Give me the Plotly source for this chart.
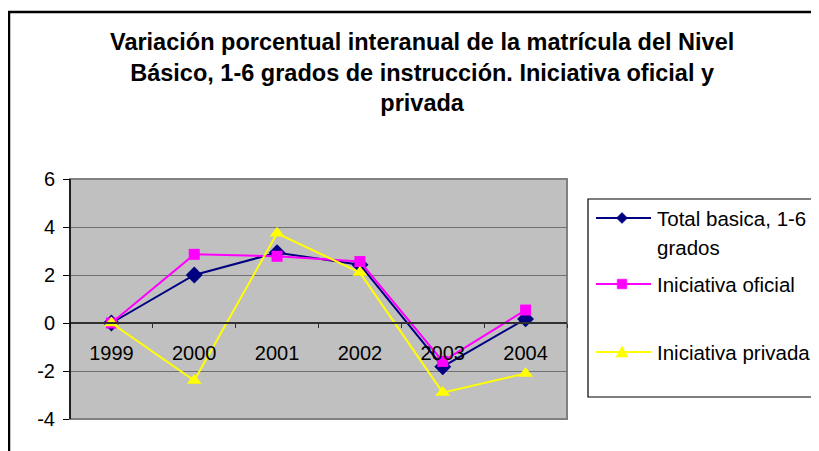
import plotly.graph_objects as go

years = ["1999", "2000", "2001", "2002", "2003", "2004"]
total_basica = [0.0, 2.0, 2.93, 2.43, -1.82, 0.17]
iniciativa_oficial = [0.0, 2.86, 2.78, 2.56, -1.6, 0.54]
iniciativa_privada = [0.0, -2.4, 3.74, 2.1, -2.9, -2.1]

series_names = ["Total basica, 1-6 grados", "Iniciativa oficial", "Iniciativa privada"]
legend_lines = [["Total basica, 1-6", "grados"], ["Iniciativa oficial"], ["Iniciativa privada"]]
colors = ["#000080", "#FF00FF", "#FFFF00"]
symbols = ["diamond", "square", "triangle-up"]
marker_sizes = [13, 11, 13]
title_lines = ["Variación porcentual interanual de la matrícula del Nivel",
               "Básico, 1-6 grados de instrucción. Iniciativa oficial y",
               "privada"]
y_ticks = [-4, -2, 0, 2, 4, 6]
y_tick_text = ["-4", "-2", "0", "2", "4", "6"]

# page body has an 8px margin: work in screen pixels, convert to figure pixels
OFF = 8
W, H = 819 - OFF, 451 - OFF
L, R, T, B = 70 - OFF, 567 - OFF, 179 - OFF, 419 - OFF
pw, ph = R - L, B - T

def px(x):
    return (x - OFF - L) / pw

def py(y):
    return (B - (y - OFF)) / ph

FONT = "Liberation Sans, Arial, sans-serif"

fig = go.Figure()
for name, vals, c, s, ms in zip(series_names, [total_basica, iniciativa_oficial, iniciativa_privada],
                                colors, symbols, marker_sizes):
    fig.add_trace(go.Scatter(x=years, y=vals, name=name, mode="lines+markers",
                             line=dict(color=c, width=2),
                             marker=dict(symbol=s, size=ms, color=c, line=dict(width=0)),
                             showlegend=False, cliponaxis=False))

shapes = []
# outer chart border
shapes.append(dict(type="rect", xref="paper", yref="paper", x0=px(9), x1=px(845), y0=py(470), y1=py(12),
                   line=dict(color="black", width=2.5), layer="above"))
# plot area border (gray)
shapes.append(dict(type="rect", xref="paper", yref="paper", x0=0, x1=1, y0=0, y1=1,
                   line=dict(color="#808080", width=2), layer="below"))
# left axis line
shapes.append(dict(type="line", xref="paper", yref="paper", x0=0, x1=0, y0=0, y1=1,
                   line=dict(color="#000000", width=1.5), layer="above"))
# legend box
shapes.append(dict(type="rect", xref="paper", yref="paper", x0=px(588), x1=px(850), y0=py(397), y1=py(199),
                   line=dict(color="black", width=1.2), fillcolor="white", layer="above"))

leg_rows = [218, 284, 352]
marker_paths = [
    "M0,-5.5 L5.5,0 L0,5.5 L-5.5,0 Z",
    "M-4.8,-4.8 L4.8,-4.8 L4.8,4.8 L-4.8,4.8 Z",
    "M-6,-5 L6,-5 L0,6 Z",
]
annotations = []
for i, (rowy, c) in enumerate(zip(leg_rows, colors)):
    shapes.append(dict(type="line", xref="paper", yref="paper", x0=px(596), x1=px(651), y0=py(rowy), y1=py(rowy),
                       line=dict(color=c, width=2), layer="above"))
    shapes.append(dict(type="path", xref="paper", yref="paper", xsizemode="pixel", ysizemode="pixel",
                       xanchor=px(622), yanchor=py(rowy), path=marker_paths[i],
                       fillcolor=c, line=dict(color=c, width=0.5), layer="above"))
    for j, txt in enumerate(legend_lines[i]):
        annotations.append(dict(text=txt, xref="paper", yref="paper", x=px(655), y=py(rowy + 29 * j),
                                xanchor="left", yanchor="middle", showarrow=False,
                                font=dict(family=FONT, size=20.5, color="black")))

annotations.append(dict(text="<br>".join(title_lines), xref="paper", yref="paper", x=px(422), y=py(72),
                        xanchor="center", yanchor="middle", showarrow=False, align="center",
                        font=dict(family=FONT, size=23.5, color="black", weight="bold")))

fig.update_layout(
    width=W, height=H,
    margin=dict(l=L, r=W - R, t=T, b=H - B, pad=0),
    paper_bgcolor="white", plot_bgcolor="#C0C0C0",
    font=dict(family=FONT, size=20, color="black"),
    shapes=shapes, annotations=annotations,
    xaxis=dict(type="category", range=[-0.5, 5.5], anchor="free", position=0.4,
               showgrid=False, zeroline=False, showline=True, linecolor="#303030", linewidth=1.5,
               ticks="outside", tickson="boundaries", ticklen=4, tickcolor="#303030", tickwidth=1,
               ticklabelstandoff=12, tickfont=dict(size=20)),
    yaxis=dict(range=[-4, 6], tickvals=y_ticks, ticktext=y_tick_text, showgrid=True,
               gridcolor="#707070", gridwidth=1,
               zeroline=False, showline=False, ticks="outside", ticklen=6, tickcolor="black",
               ticklabelstandoff=4, tickfont=dict(size=20)),
)

fig.write_html("out.html")
